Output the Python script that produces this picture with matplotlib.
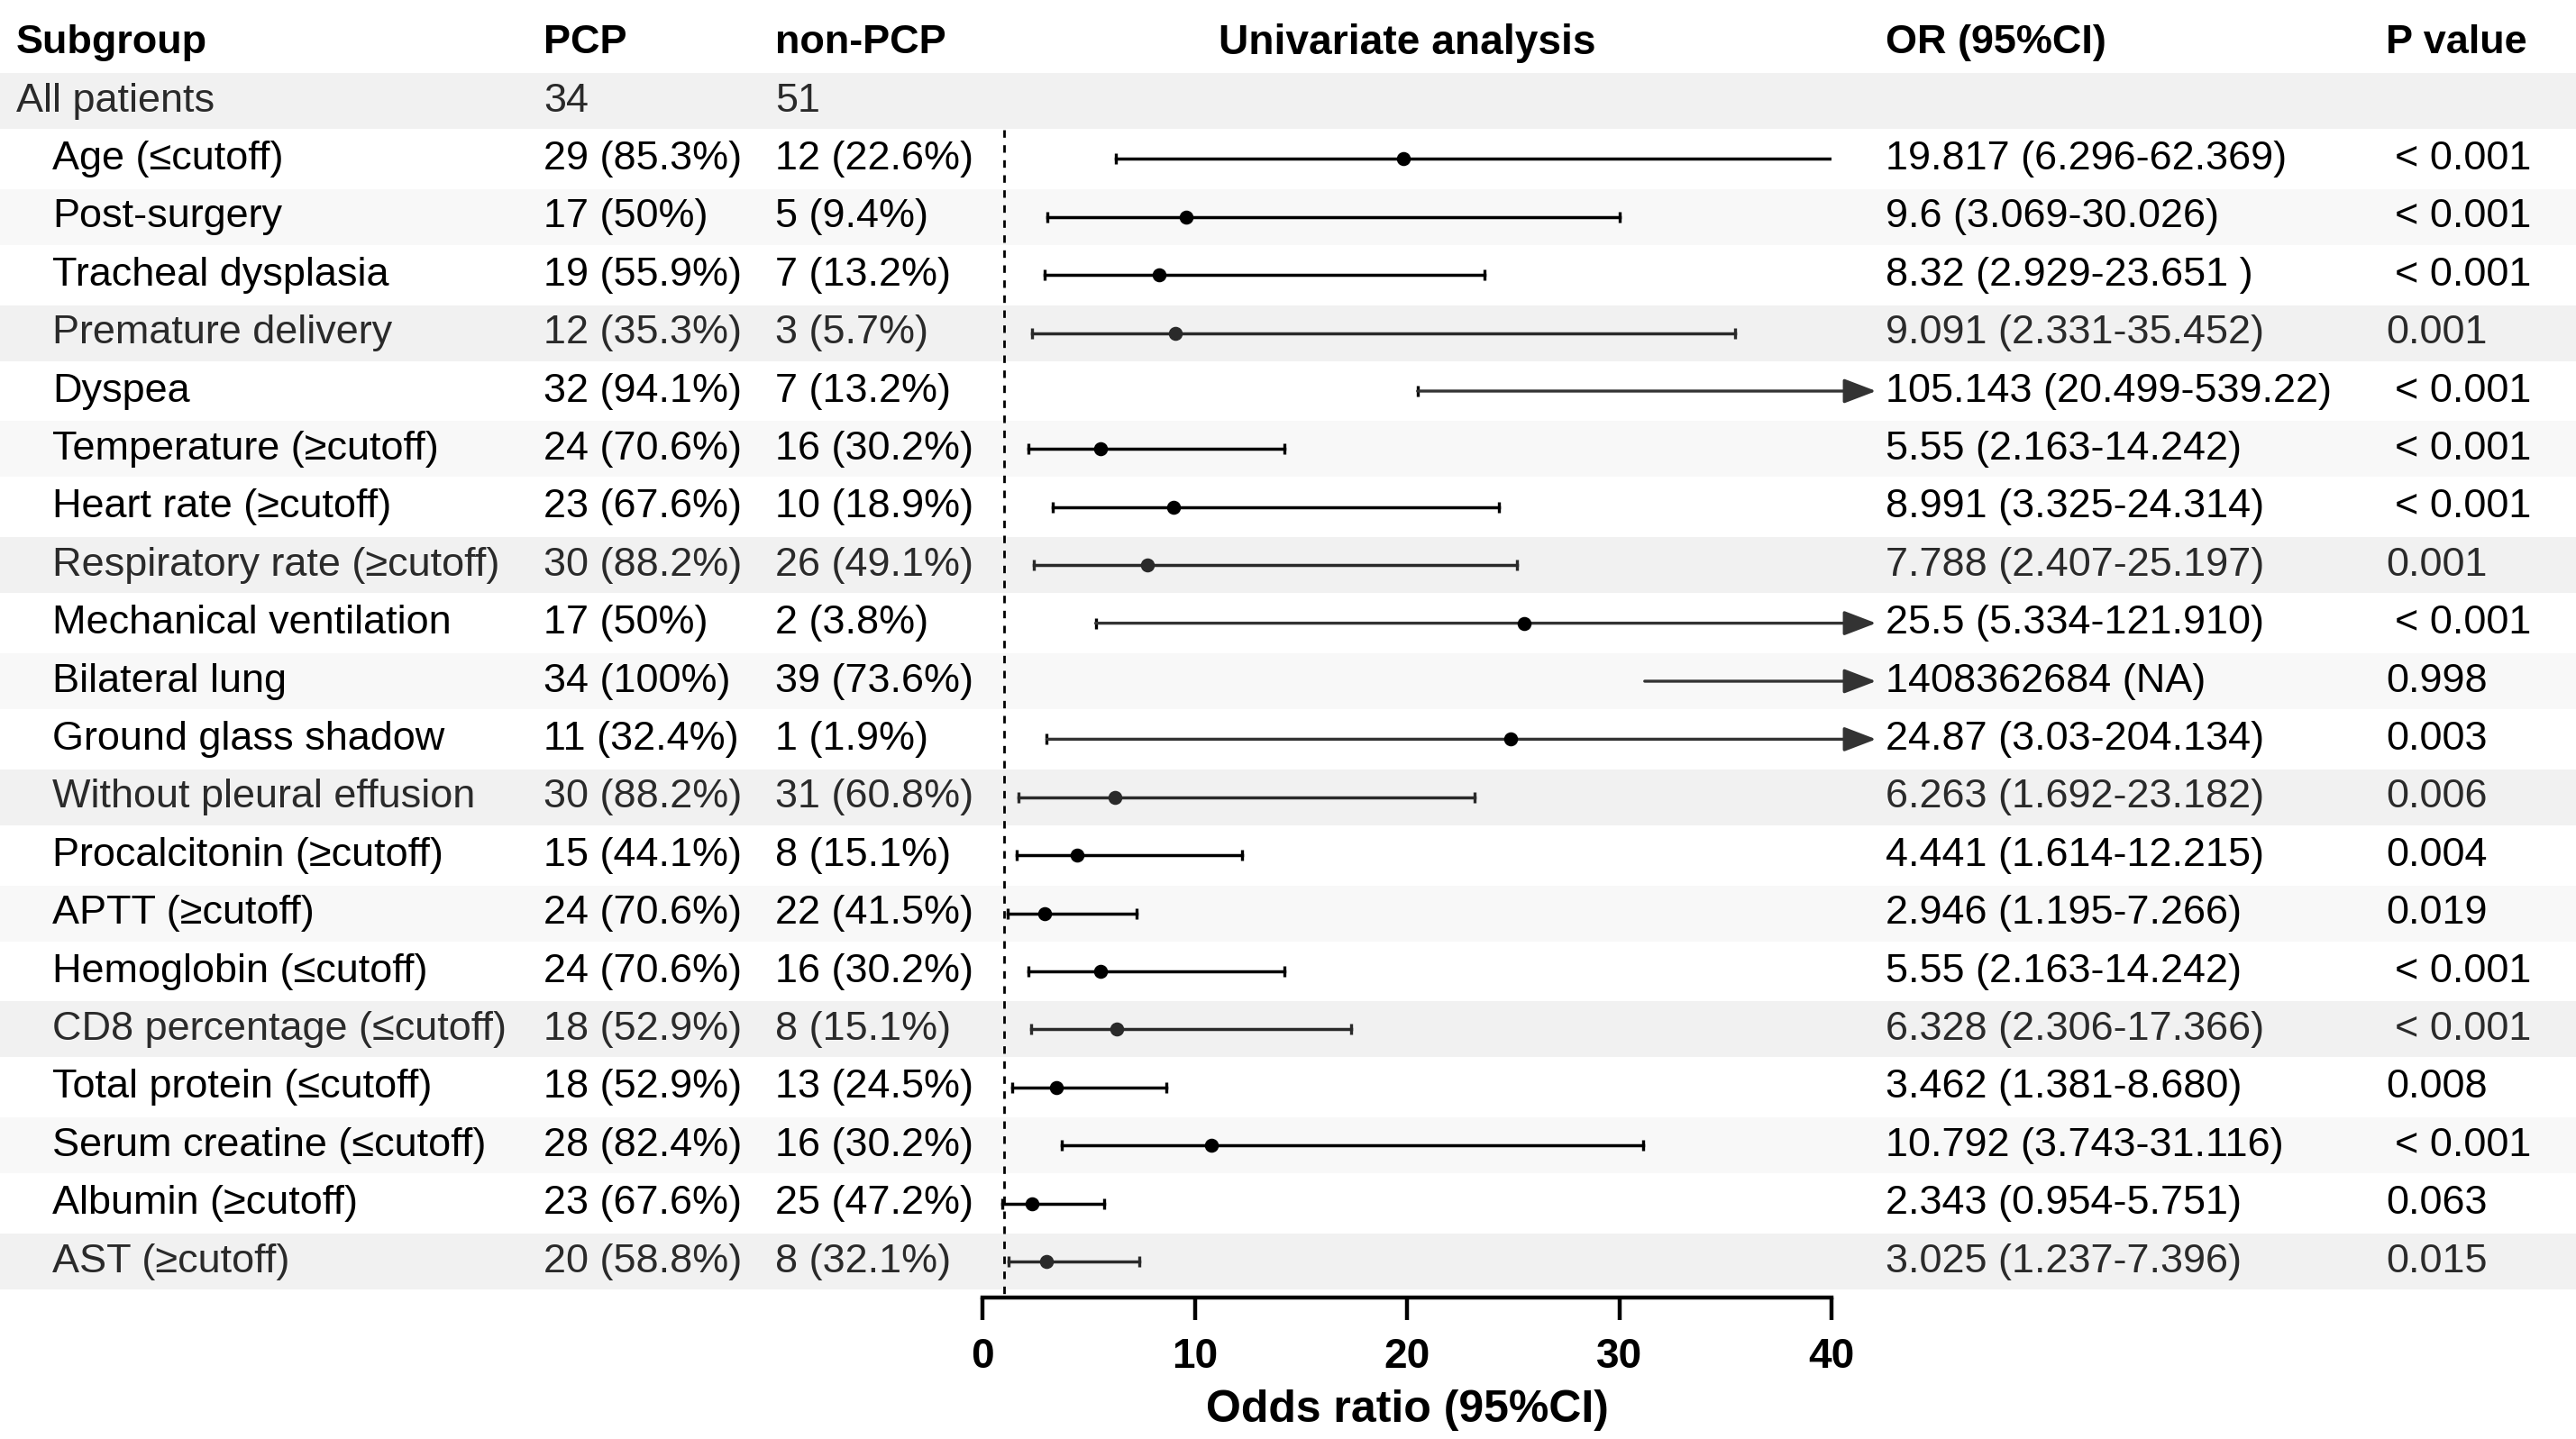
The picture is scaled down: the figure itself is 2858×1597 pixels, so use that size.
import numpy as np
import matplotlib
matplotlib.use("Agg")
import matplotlib.pyplot as plt
from matplotlib.patches import Rectangle
from matplotlib.transforms import blended_transform_factory

plt.rcParams['font.family'] = ['Liberation Sans', 'DejaVu Sans']

subgroups = ["All patients", "Age (≤cutoff)", "Post-surgery", "Tracheal dysplasia",
             "Premature delivery", "Dyspea", "Temperature (≥cutoff)", "Heart rate (≥cutoff)",
             "Respiratory rate (≥cutoff)", "Mechanical ventilation", "Bilateral lung",
             "Ground glass shadow", "Without pleural effusion", "Procalcitonin (≥cutoff)",
             "APTT (≥cutoff)", "Hemoglobin (≤cutoff)", "CD8 percentage (≤cutoff)",
             "Total protein (≤cutoff)", "Serum creatine (≤cutoff)", "Albumin (≥cutoff)",
             "AST (≥cutoff)"]
pcp = ["34", "29 (85.3%)", "17 (50%)", "19 (55.9%)", "12 (35.3%)", "32 (94.1%)",
       "24 (70.6%)", "23 (67.6%)", "30 (88.2%)", "17 (50%)", "34 (100%)", "11 (32.4%)",
       "30 (88.2%)", "15 (44.1%)", "24 (70.6%)", "24 (70.6%)", "18 (52.9%)", "18 (52.9%)",
       "28 (82.4%)", "23 (67.6%)", "20 (58.8%)"]
non_pcp = ["51", "12 (22.6%)", "5 (9.4%)", "7 (13.2%)", "3 (5.7%)", "7 (13.2%)",
           "16 (30.2%)", "10 (18.9%)", "26 (49.1%)", "2 (3.8%)", "39 (73.6%)", "1 (1.9%)",
           "31 (60.8%)", "8 (15.1%)", "22 (41.5%)", "16 (30.2%)", "8 (15.1%)", "13 (24.5%)",
           "16 (30.2%)", "25 (47.2%)", "8 (32.1%)"]
or_text = ["", "19.817 (6.296-62.369)", "9.6 (3.069-30.026)", "8.32 (2.929-23.651 )",
           "9.091 (2.331-35.452)", "105.143 (20.499-539.22)", "5.55 (2.163-14.242)",
           "8.991 (3.325-24.314)", "7.788 (2.407-25.197)", "25.5 (5.334-121.910)",
           "1408362684 (NA)", "24.87 (3.03-204.134)", "6.263 (1.692-23.182)",
           "4.441 (1.614-12.215)", "2.946 (1.195-7.266)", "5.55 (2.163-14.242)",
           "6.328 (2.306-17.366)", "3.462 (1.381-8.680)", "10.792 (3.743-31.116)",
           "2.343 (0.954-5.751)", "3.025 (1.237-7.396)"]
p_text = ["", "< 0.001", "< 0.001", "< 0.001", "0.001", "< 0.001", "< 0.001", "< 0.001",
          "0.001", "< 0.001", "0.998", "0.003", "0.006", "0.004", "0.019", "< 0.001",
          "< 0.001", "0.008", "< 0.001", "0.063", "0.015"]

odds = [np.nan, 19.817, 9.6, 8.32, 9.091, 105.143, 5.55, 8.991, 7.788, 25.5, 1408362684,
        24.87, 6.263, 4.441, 2.946, 5.55, 6.328, 3.462, 10.792, 2.343, 3.025]
lower = [np.nan, 6.296, 3.069, 2.929, 2.331, 20.499, 2.163, 3.325, 2.407, 5.334, 31.2,
         3.03, 1.692, 1.614, 1.195, 2.163, 2.306, 1.381, 3.743, 0.954, 1.237]
upper = [np.nan, 62.369, 30.026, 23.651, 35.452, 539.22, 14.242, 24.314, 25.197, 121.910,
         np.inf, 204.134, 23.182, 12.215, 7.266, 14.242, 17.366, 8.680, 31.116, 5.751, 7.396]
arrow_rows = ["Dyspea", "Mechanical ventilation", "Bilateral lung", "Ground glass shadow"]
headers = ["Subgroup", "PCP", "non-PCP", "OR (95%CI)", "P value"]

W, H = 2858, 1597
fig = plt.figure(figsize=(W / 200, H / 200), dpi=200)
x0 = 1090 / W
ax = fig.add_axes([x0, 0, 942 / W, 1])
row0, step = 112, 64.4
ax.set_ylim((H - row0) / step, -row0 / step)
ax.set_xlim(0, 40)
axis_y = (1440 - row0) / step

tr = blended_transform_factory(fig.transFigure, ax.transData)
fs = 16.2
n = len(subgroups)

# row shading
for i in range(0, n, 2):
    col = '#f1f1f1' if (i // 2) % 2 == 0 else '#f8f8f8'
    ax.add_patch(Rectangle((0, i - 0.48), 1, 0.96, transform=tr, color=col,
                           zorder=0, clip_on=False, lw=0))

# headers
hx = [18, 603, 860, 2092, 2647]
for x, h in zip(hx, headers):
    ax.text(x / W, -1, h, transform=tr, fontsize=fs, fontweight='bold', va='center')
ax.text(20, -1, "Univariate analysis", fontsize=16.6, fontweight='bold',
        ha='center', va='center')

for i in range(n):
    tc = '#2a2a2a' if (i % 4 == 0) else 'black'
    ax.text((18 if i == 0 else 58) / W, i, subgroups[i], transform=tr, fontsize=fs,
            va='center', color=tc)
    ax.text(603 / W, i, pcp[i], transform=tr, fontsize=fs, va='center', color=tc)
    ax.text(860 / W, i, non_pcp[i], transform=tr, fontsize=fs, va='center', color=tc)
    if or_text[i]:
        ax.text(2092 / W, i, or_text[i], transform=tr, fontsize=fs, va='center', color=tc)
        px = 2657 if p_text[i].startswith('<') else 2647
        ax.text(px / W, i, p_text[i], transform=tr, fontsize=fs, va='center', color=tc)

    if i == 0:
        continue
    lc = '#2a2a2a' if (i % 4 == 0) else 'black'
    lo, hi, o = lower[i], upper[i], odds[i]
    if subgroups[i] in arrow_rows:
        ax.annotate('', xy=(42.1, i), xytext=(lo, i), annotation_clip=False,
                    arrowprops=dict(arrowstyle='-|>,head_length=1.1,head_width=0.42',
                                    color='#333333', lw=1.2, shrinkA=0, shrinkB=0,
                                    mutation_scale=10))
        if subgroups[i] != "Bilateral lung":
            ax.plot([lo], [i], marker='|', ms=4.5, mew=1.2, color=lc)
    else:
        ax.plot([lo, min(hi, 40)], [i, i], color=lc, lw=1.25)
        ax.plot([lo], [i], marker='|', ms=4.5, mew=1.2, color=lc)
        if hi <= 40:
            ax.plot([hi], [i], marker='|', ms=4.5, mew=1.2, color=lc)
    if o <= 40:
        ax.plot([o], [i], marker='o', ms=4.6, color=lc, zorder=5)

# reference line at OR = 1
ax.plot([1, 1], [0.5, axis_y], color='black', lw=1, ls=(0, (3, 3)))

for s in ['left', 'top', 'right']:
    ax.spines[s].set_visible(False)
ax.spines['bottom'].set_position(('data', axis_y))
ax.spines['bottom'].set_linewidth(1.6)
ax.set_yticks([])
ax.set_xticks([0, 10, 20, 30, 40])
ax.tick_params(axis='x', direction='out', length=9, width=1.6, pad=7, labelsize=16.5)
for lab in ax.get_xticklabels():
    lab.set_fontweight('bold')
ax.text(20, (1565 - row0) / step, "Odds ratio (95%CI)", fontsize=18, fontweight='bold',
        ha='center', va='center')
ax.patch.set_visible(False)

fig.savefig("out.png", dpi=200)
